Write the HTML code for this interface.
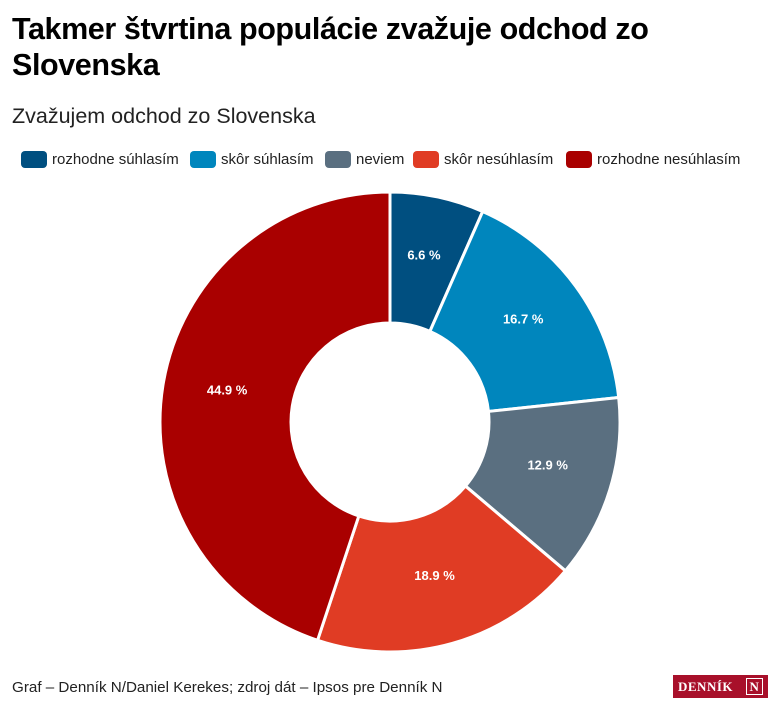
<!DOCTYPE html>
<html><head><meta charset="utf-8"><style>
body{margin:0;width:780px;height:713px;background:#fff;font-family:"Liberation Sans",sans-serif;position:relative;overflow:hidden}
h1{position:absolute;left:12px;top:11px;margin:0;font-size:30.5px;line-height:36px;font-weight:bold;color:#000;letter-spacing:-0.4px}
.sub{position:absolute;left:12px;top:104px;font-size:21.5px;color:#222}
.leg{position:absolute;top:151px;font-size:15px;color:#222;display:flex;align-items:center}
.leg i{display:inline-block;width:26px;height:17px;border-radius:4px;margin-right:5px}
.foot{position:absolute;left:12px;top:679px;font-size:15.2px;color:#222}
.logo{position:absolute;left:673px;top:675px;width:95px;height:23px;background:#a8102a;color:#fff;font-family:"Liberation Serif",serif;font-weight:bold;font-size:13px;line-height:23px;padding-left:5px;box-sizing:border-box;letter-spacing:0.5px}
.logo b{position:absolute;right:5px;top:3px;width:15px;height:15px;border:1.5px solid #fff;font-size:13px;line-height:15px;text-align:center}
</style></head><body>
<h1>Takmer štvrtina populácie zvažuje odchod zo<br>Slovenska</h1>
<div class="sub">Zvažujem odchod zo Slovenska</div>
<div class="leg" style="left:21px"><i style="background:#004f80"></i>rozhodne súhlasím</div>
<div class="leg" style="left:190px"><i style="background:#0086bd"></i>skôr súhlasím</div>
<div class="leg" style="left:325px"><i style="background:#5a6f80"></i>neviem</div>
<div class="leg" style="left:413px"><i style="background:#e03c24"></i>skôr nesúhlasím</div>
<div class="leg" style="left:566px"><i style="background:#a90000"></i>rozhodne nesúhlasím</div>
<svg id="s" width="780" height="713" style="position:absolute;left:0;top:0"></svg>
<div class="foot">Graf – Denník N/Daniel Kerekes; zdroj dát – Ipsos pre Denník N</div>
<div class="logo">DENNÍK<b>N</b></div>
<script>
var d=[[6.6,"#004f80"],[16.7,"#0086bd"],[12.9,"#5a6f80"],[18.9,"#e03c24"],[44.9,"#a90000"]];
var cx=390,cy=422,R=230,r=99,a=0,h="";
function p(rad,ang){return [cx+rad*Math.sin(ang),cy-rad*Math.cos(ang)];}
d.forEach(function(e){var a0=a*2*Math.PI/100;a+=e[0];var a1=a*2*Math.PI/100;var L=(a1-a0)>Math.PI?1:0;
var A=p(R,a0),B=p(R,a1),C=p(r,a1),D=p(r,a0);
h+='<path d="M'+A+' A'+R+' '+R+' 0 '+L+' 1 '+B+' L'+C+' A'+r+' '+r+' 0 '+L+' 0 '+D+'Z" fill="'+e[1]+'" stroke="#fff" stroke-width="3" stroke-linejoin="round"/>';
var m=(a0+a1)/2,t=p(165,m);
h+='<text x="'+t[0]+'" y="'+(t[1]-1)+'" text-anchor="middle" font-family="Liberation Sans,sans-serif" font-weight="bold" font-size="13" fill="#fff">'+e[0].toFixed(1)+' %</text>';});
document.getElementById("s").innerHTML=h;
</script>
</body></html>
